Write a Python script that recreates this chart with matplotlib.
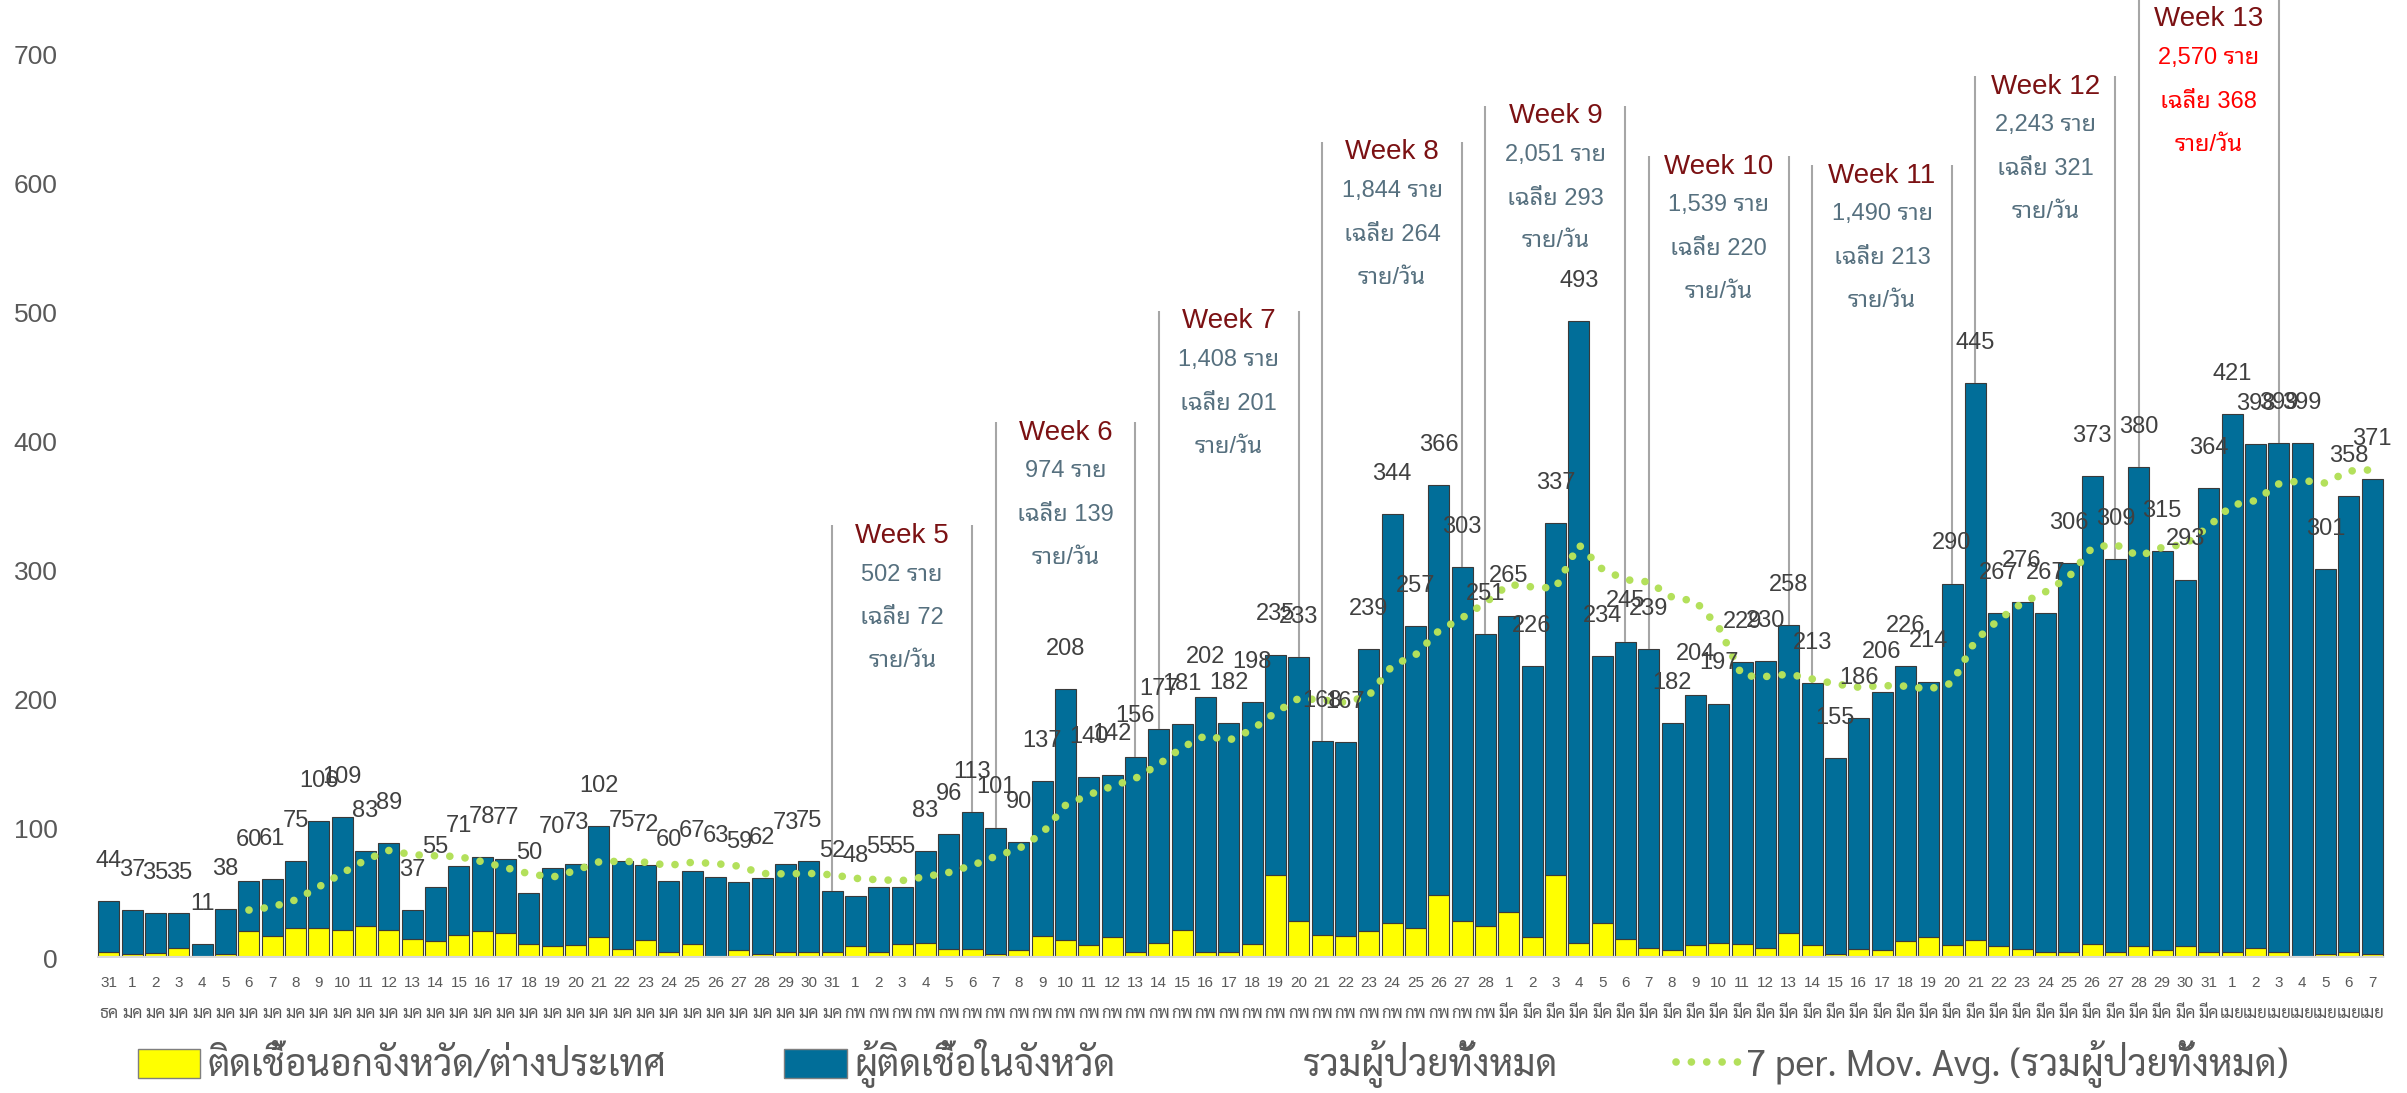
import numpy as np
import pandas as pd
import matplotlib
matplotlib.use('Agg')
import matplotlib.pyplot as plt
from matplotlib.patches import Patch
from matplotlib.lines import Line2D

# daily totals 31 Dec - 7 Apr
totals = [44, 37, 35, 35, 11, 38, 60, 61, 75, 106, 109, 83, 89, 37, 55, 71,
          78, 77, 50, 70, 73, 102, 75, 72, 60, 67, 63, 59, 62, 73, 75, 52,
          48, 55, 55, 83, 96, 113, 101, 90, 137, 208, 140, 142, 156, 177, 181, 202,
          182, 198, 235, 233, 168, 167, 239, 344, 257, 366, 303, 251,
          265, 226, 337, 493, 234, 245, 239, 182, 204, 197, 229, 230, 258, 213, 155, 186,
          206, 226, 214, 290, 445, 267, 276, 267, 306, 373, 309, 380, 315, 293, 364,
          421, 398, 399, 399, 301, 358, 371]
# infected outside province / abroad (yellow part)
outside = [5, 3, 4, 8, 0, 3, 21, 17, 23, 23, 22, 25, 22, 15, 13, 18,
           21, 19, 11, 9, 10, 16, 7, 14, 5, 11, 1, 6, 3, 5, 5, 5,
           9, 5, 11, 12, 7, 7, 3, 6, 17, 14, 10, 16, 5, 12, 22, 5,
           5, 11, 64, 29, 18, 17, 21, 27, 23, 49, 29, 25,
           36, 16, 64, 12, 27, 15, 8, 6, 10, 12, 11, 8, 19, 10, 3, 7,
           6, 13, 16, 10, 14, 9, 7, 5, 5, 11, 5, 9, 6, 9, 5,
           5, 8, 5, 0, 3, 5, 3]

month_names = ['ธค', 'มค', 'กพ', 'มีค', 'เมย']
month_days = [[31], list(range(1, 32)), list(range(1, 29)), list(range(1, 32)), list(range(1, 8))]
day_labels = [str(d) for days in month_days for d in days]
month_labels = [m for m, days in zip(month_names, month_days) for d in days]

week_names = ['Week 5', 'Week 6', 'Week 7', 'Week 8', 'Week 9', 'Week 10', 'Week 11', 'Week 12', 'Week 13']
week_first = [31, 38, 45, 52, 59, 66, 73, 80, 87]
week_totals = [502, 974, 1408, 1844, 2051, 1539, 1490, 2243, 2570]
week_avgs = [72, 139, 201, 264, 293, 220, 213, 321, 368]
week_title_y = [327, 407, 493, 624, 652, 613, 606, 675, 727]

plt.rcParams['font.family'] = ['Liberation Sans', 'Noto Sans Thai Looped', 'DejaVu Sans']
thai_narrow = ['Sarabun', 'Noto Sans Thai Looped', 'DejaVu Sans']

blue = '#016E99'
yellow = '#FFFF00'
green = '#B3E05B'
grey_txt = '#595959'

tot = np.array(totals)
out = np.array(outside)
inside = tot - out
x = np.arange(len(totals))
ma = pd.Series(totals).rolling(7).mean()

fig = plt.figure(figsize=(24.07, 10.93), dpi=100)
ax = fig.add_axes([70 / 2407, 135 / 1093, 2337 / 2407, 958 / 1093])

ax.bar(x, out, width=0.9, color=yellow, edgecolor='#3a3a3a', linewidth=0.8)
ax.bar(x, inside, bottom=out, width=0.9, color=blue, edgecolor='#3a3a3a', linewidth=0.8)
ax.hlines(0, -0.5, len(x) - 0.5, color='#D9D9D9', lw=3, zorder=3)
ax.plot(x, ma, color=green, lw=5.5, linestyle=(0, (0.01, 2.0)), dash_capstyle='round', zorder=4)

for i, v in enumerate(totals):
    ax.annotate(str(v), (i, v), xytext=(0, 29), textcoords='offset points',
                ha='center', va='center', fontsize=17, color='#404040', zorder=5)

for k, name in enumerate(week_names):
    a, b = week_first[k], week_first[k] + 6
    xc = (a + b) / 2
    ty = week_title_y[k]
    sub_col = '#FF0000' if k == len(week_names) - 1 else '#56707F'
    top = ty + 8 if k < len(week_names) - 1 else 760
    ax.vlines([a, b], [totals[a], totals[b]], top, color='#A6A6A6', lw=1.5, zorder=2)
    ax.text(xc, ty, name, ha='center', va='center', fontsize=20, color='#7B1113')
    ax.text(xc, ty - 30, f'{week_totals[k]:,} ราย', ha='center', va='center', fontsize=17, color=sub_col)
    ax.text(xc, ty - 64, f'เฉลี่ย {week_avgs[k]}', ha='center', va='center', fontsize=17, color=sub_col)
    ax.text(xc, ty - 97, 'ราย/วัน', ha='center', va='center', fontsize=17, color=sub_col)

ax.set_xlim(-1.67, 98.5)
ax.set_ylim(0, 742)
ax.set_yticks(range(0, 701, 100))
ax.tick_params(axis='y', length=0, pad=9, labelsize=19, labelcolor=grey_txt)
ax.set_xticks(x)
ax.set_xticklabels(day_labels, fontsize=11, color=grey_txt,
                   family=['Liberation Sans Narrow', 'Liberation Sans'])
ax.tick_params(axis='x', length=0, pad=13)
for i, m in enumerate(month_labels):
    ax.annotate(m, (i, 0), xycoords=('data', 'axes fraction'), xytext=(0, -40),
                textcoords='offset points', ha='center', va='center', fontsize=12,
                color=grey_txt, family=thai_narrow)
for s in ax.spines.values():
    s.set_visible(False)

handles = [Patch(facecolor=yellow, edgecolor='#7f7f7f'),
           Patch(facecolor=blue, edgecolor='#7f7f7f'),
           Line2D([], [], color='none'),
           Line2D([], [], color=green, lw=5.5, linestyle=(0, (0.01, 2.0)), dash_capstyle='round')]
labels = ['ติดเชื้อนอกจังหวัด/ต่างประเทศ', 'ผู้ติดเชื้อในจังหวัด', 'รวมผู้ป่วยทั้งหมด',
          '7 per. Mov. Avg. (รวมผู้ป่วยทั้งหมด)']
fig.legend(handles, labels, ncol=4, loc='center left', bbox_to_anchor=(0.0435, 0.027),
           frameon=False, prop={'family': thai_narrow, 'size': 26.5}, handlelength=1.7,
           handleheight=0.85, handletextpad=0.2, columnspacing=3.2, labelcolor=grey_txt)

fig.savefig('out.png', dpi=100)
